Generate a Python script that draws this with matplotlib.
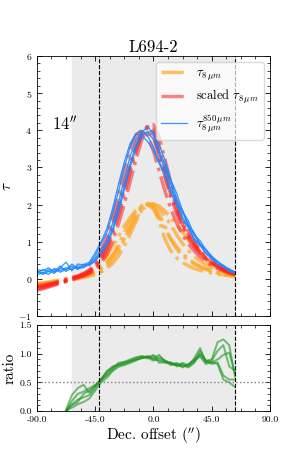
import numpy as np
import matplotlib
matplotlib.use('Agg')
import matplotlib.pyplot as plt
from matplotlib.ticker import MultipleLocator, FormatStrFormatter

plt.rcParams['font.family'] = 'serif'
plt.rcParams['font.serif'] = ['cmr10', 'DejaVu Serif']
plt.rcParams['mathtext.fontset'] = 'cm'
plt.rcParams['axes.formatter.use_mathtext'] = True

# Dec. offset grid (arcsec)
x = np.arange(-90, 63.1, 4.5)
x_ratio = x[5:]

# tau_8um (orange)
orange = [
    [-0.16,-0.14,-0.11,-0.08,-0.05,-0.02,0.02,0.06,0.11,0.18,0.28,0.42,0.62,0.88,1.15,1.42,1.65,1.85,1.97,2.02,1.95,1.72,1.42,1.05,0.80,0.62,0.50,0.40,0.32,0.26,0.21,0.17,0.14,0.11,0.09],
    [-0.14,-0.12,-0.10,-0.07,-0.04,-0.01,0.02,0.05,0.08,0.12,0.18,0.28,0.42,0.62,0.92,1.25,1.55,1.80,1.96,2.03,2.00,1.88,1.68,1.45,1.18,0.95,0.76,0.60,0.48,0.38,0.30,0.23,0.17,0.13,0.10],
    [-0.18,-0.16,-0.13,-0.10,-0.07,-0.04,-0.01,0.02,0.05,0.08,0.12,0.18,0.28,0.42,0.62,0.88,1.20,1.55,1.85,2.02,1.95,1.55,1.05,0.75,0.56,0.44,0.35,0.28,0.23,0.19,0.16,0.13,0.11,0.09,0.08],
    [-0.12,-0.10,-0.08,-0.05,-0.02,0.01,0.04,0.07,0.10,0.14,0.20,0.30,0.45,0.65,0.85,1.08,1.35,1.62,1.85,1.98,2.02,1.96,1.82,1.65,1.45,1.25,1.06,0.86,0.68,0.52,0.38,0.28,0.20,0.14,0.10],
    [-0.20,-0.18,-0.15,-0.12,-0.09,-0.06,-0.03,0.00,0.04,0.08,0.14,0.22,0.34,0.52,0.76,1.06,1.40,1.72,1.95,2.00,1.88,1.62,1.32,1.08,0.86,0.68,0.54,0.43,0.34,0.27,0.21,0.16,0.12,0.09,0.07],
]

# scaled tau_8um (red)
red = [
    [-0.25,-0.22,-0.18,-0.13,-0.09,-0.05,0.00,0.05,0.11,0.20,0.35,0.62,0.98,1.45,1.98,2.55,3.10,3.60,3.95,4.10,3.90,3.35,2.75,2.20,1.75,1.38,1.08,0.86,0.68,0.53,0.42,0.32,0.24,0.17,0.12],
    [-0.22,-0.19,-0.15,-0.11,-0.07,-0.03,0.02,0.07,0.14,0.24,0.42,0.75,1.15,1.70,2.30,2.95,3.50,3.88,4.00,3.85,3.45,2.90,2.35,1.88,1.50,1.18,0.94,0.75,0.59,0.47,0.37,0.28,0.21,0.15,0.11],
    [-0.30,-0.27,-0.22,-0.17,-0.12,-0.07,-0.02,0.03,0.08,0.14,0.24,0.42,0.66,1.02,1.48,2.02,2.62,3.22,3.75,4.08,4.15,3.80,3.20,2.58,2.05,1.62,1.27,1.00,0.78,0.60,0.46,0.35,0.26,0.19,0.13],
    [-0.18,-0.16,-0.13,-0.10,-0.06,-0.02,0.03,0.08,0.14,0.22,0.32,0.55,0.85,1.30,1.85,2.45,3.00,3.52,3.88,3.98,3.80,3.30,2.75,2.25,1.82,1.45,1.15,0.92,0.72,0.56,0.44,0.34,0.25,0.18,0.12],
    [-0.27,-0.24,-0.20,-0.15,-0.10,-0.06,-0.01,0.04,0.09,0.16,0.28,0.50,0.80,1.20,1.70,2.28,2.88,3.45,3.90,4.12,4.00,3.55,2.95,2.38,1.90,1.50,1.18,0.94,0.73,0.57,0.44,0.34,0.25,0.18,0.12],
]

# tau_8um^850um (blue)
blue = [
    [0.20,0.15,0.25,0.20,0.35,0.20,0.30,0.30,0.35,0.40,0.55,0.80,1.05,1.50,2.05,2.70,3.30,3.75,3.95,3.95,3.75,3.35,2.95,2.55,2.05,1.80,1.42,1.18,0.92,0.78,0.55,0.47,0.33,0.26,0.17],
    [0.25,0.22,0.30,0.18,0.28,0.25,0.40,0.28,0.30,0.42,0.62,0.95,1.25,1.75,2.35,3.00,3.55,3.90,4.00,3.85,3.55,3.15,2.85,2.40,2.05,1.66,1.40,1.08,0.93,0.70,0.58,0.40,0.34,0.22,0.16],
    [0.10,0.18,0.12,0.28,0.22,0.30,0.25,0.35,0.32,0.38,0.50,0.72,0.95,1.35,1.90,2.50,3.10,3.60,3.95,4.10,3.90,3.45,3.05,2.65,2.15,1.85,1.46,1.24,0.95,0.80,0.58,0.48,0.33,0.27,0.18],
    [0.15,0.25,0.20,0.15,0.30,0.45,0.22,0.40,0.38,0.45,0.70,1.00,1.35,1.90,2.55,3.15,3.65,3.90,3.85,3.70,3.45,3.10,2.78,2.30,1.98,1.58,1.38,1.04,0.90,0.68,0.54,0.40,0.33,0.21,0.15],
    [0.22,0.12,0.20,0.26,0.18,0.25,0.35,0.25,0.40,0.36,0.48,0.68,0.90,1.28,1.80,2.40,3.00,3.50,3.85,3.95,3.98,3.60,3.20,2.66,2.30,1.82,1.56,1.18,1.03,0.78,0.62,0.46,0.37,0.25,0.19],
]

# ratio (green)
ratio = [
    [0.02,0.28,0.40,0.46,0.32,0.44,0.55,0.70,0.78,0.80,0.84,0.87,0.90,0.93,0.95,0.92,0.98,0.86,0.84,0.80,0.82,0.78,0.86,1.05,0.88,0.90,1.20,1.25,1.15,0.60],
    [0.00,0.18,0.30,0.34,0.40,0.46,0.52,0.65,0.75,0.82,0.85,0.88,0.92,0.95,0.94,0.98,0.90,0.88,0.82,0.84,0.78,0.80,0.92,1.10,0.85,0.85,0.90,0.98,1.02,0.65],
    [0.00,0.12,0.20,0.24,0.28,0.40,0.55,0.62,0.72,0.80,0.82,0.86,0.90,0.92,0.96,0.90,0.88,0.84,0.85,0.78,0.80,0.76,0.84,1.00,0.88,0.82,0.85,0.62,0.55,0.55],
    [0.00,0.06,0.12,0.16,0.22,0.36,0.50,0.58,0.70,0.77,0.80,0.84,0.88,0.93,0.92,0.96,0.84,0.86,0.80,0.82,0.76,0.82,0.88,0.95,0.82,0.86,0.82,0.55,0.50,0.42],
    [0.00,0.10,0.16,0.30,0.36,0.44,0.56,0.68,0.76,0.84,0.86,0.90,0.94,0.96,0.93,0.88,0.94,0.88,0.83,0.80,0.84,0.80,0.90,0.98,0.86,0.88,1.05,1.15,0.78,0.70],
]

shade = (-63, 63)
vlines = [-42, 63]

fig = plt.figure(figsize=(3.0, 4.71), dpi=100)
ax1 = fig.add_axes([0.123, 0.329, 0.777, 0.552])
ax2 = fig.add_axes([0.123, 0.127, 0.777, 0.183])

for ax in (ax1, ax2):
    ax.axvspan(shade[0], shade[1], color='#ebebeb', zorder=0)
    for v in vlines:
        ax.axvline(v, color='k', ls='--', lw=0.8, zorder=5)
    ax.set_xlim(-90, 90)
    ax.xaxis.set_major_locator(MultipleLocator(45))
    ax.xaxis.set_minor_locator(MultipleLocator(11.25))
    ax.tick_params(which='both', direction='in', top=True, right=True, labelsize=7)
    ax.tick_params(which='major', length=3.5, width=0.6)
    ax.tick_params(which='minor', length=2, width=0.5)
    for s in ax.spines.values():
        s.set_linewidth(0.6)

for i, y in enumerate(orange):
    ax1.plot(x, y, color='#ffa726', ls='-.', lw=2.5, alpha=0.7,
             label=r'$\tau_{8\,\mu m}$' if i == 0 else None)
for i, y in enumerate(red):
    ax1.plot(x, y, color='#ff2020', ls='-.', lw=2.5, alpha=0.55,
             label=r'scaled $\tau_{8\,\mu m}$' if i == 0 else None)
for i, y in enumerate(blue):
    ax1.plot(x, y, color='#1e88ff', ls='-', lw=0.9, alpha=0.9,
             label=r'$\tau_{8\,\mu m}^{850\,\mu m}$' if i == 0 else None)

ax1.set_ylim(-1, 6)
ax1.yaxis.set_major_locator(MultipleLocator(1))
ax1.yaxis.set_minor_locator(MultipleLocator(0.2))
ax1.set_xticklabels([])
ax1.set_ylabel(r'$\tau$', fontsize=11, labelpad=3)
ax1.set_title('L694-2', fontsize=12, pad=3)
ax1.text(-78, 4.0, r"$14''$", fontsize=12)
ax1.legend(loc='upper right', fontsize=9, handlelength=2.1, framealpha=0.7,
           borderpad=0.4, labelspacing=0.45, handletextpad=0.7)

for y in ratio:
    ax2.plot(x_ratio, y, color='#1e9420', lw=1.4, alpha=0.6)
ax2.axhline(0.5, color='gray', ls=':', lw=1.0)
ax2.set_ylim(0, 1.5)
ax2.yaxis.set_major_locator(MultipleLocator(0.5))
ax2.yaxis.set_minor_locator(MultipleLocator(0.1))
ax2.yaxis.set_major_formatter(FormatStrFormatter('%.1f'))
ax2.xaxis.set_major_formatter(FormatStrFormatter('%.1f'))
ax2.set_ylabel('ratio', fontsize=11, labelpad=2)
ax2.set_xlabel(r"Dec. offset ($''$)", fontsize=11, labelpad=1)

fig.savefig('out.png', dpi=100)
